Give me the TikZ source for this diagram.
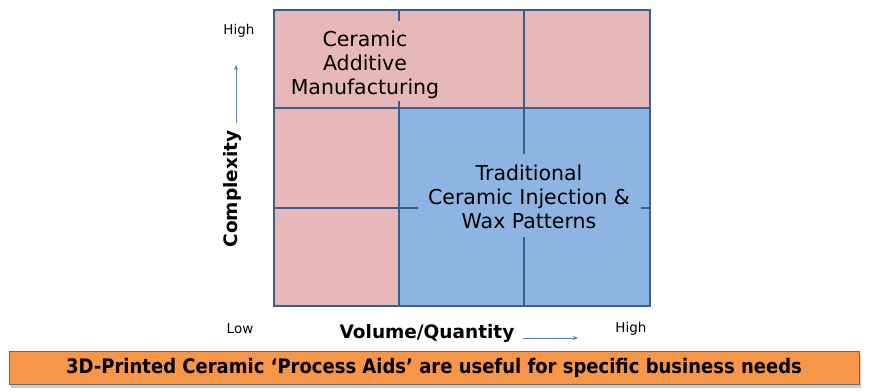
\documentclass[tikz,border=0pt]{standalone}
\usepackage{fontspec}
\setmainfont{DejaVu Sans}
\newfontfamily\condfont{DejaVu Sans Condensed}
\usetikzlibrary{arrows.meta,shadows}
\definecolor{cellpink}{HTML}{E6B9B8}
\definecolor{cellblue}{HTML}{8EB4E3}
\definecolor{gridline}{HTML}{3A5F8F}
\definecolor{arrowblue}{HTML}{4F81BD}
\definecolor{barorange}{HTML}{F79646}
\begin{document}
\begin{tikzpicture}[x=1pt,y=-1pt,
  gridl/.style={draw=gridline,line width=2pt},
  maskbox/.style={inner sep=0pt},
  celltext/.style={align=center,font=\fontsize{20.5}{24}\selectfont,inner sep=0pt},
  axislbl/.style={font=\fontsize{13.5}{15}\selectfont,inner sep=0pt},
  axistitle/.style={font=\bfseries\fontsize{18.5}{20}\selectfont,inner sep=0pt},
  axisarrow/.style={draw=arrowblue,line width=0.8pt,-{Stealth[length=5pt,width=4pt]}}]
\useasboundingbox (0,0) rectangle (873,391);
% cells
\fill[cellpink] (274,10) rectangle (650,108);
\fill[cellpink] (274,108) rectangle (399,306);
\fill[cellblue] (399,108) rectangle (650,306);
% grid lines
\draw[gridl] (399,10) -- (399,306);
\draw[gridl] (524,10) -- (524,306);
\draw[gridl] (274,108) -- (650,108);
\draw[gridl] (274,208) -- (650,208);
\draw[gridl] (274,10) rectangle (650,306);
% text backgrounds and texts
\node[maskbox,fill=cellpink,minimum height=80pt,minimum width=150pt] (cambox) at (365,61) {};
\node[maskbox,fill=cellblue,minimum height=83pt,minimum width=223pt] (tradbox) at (529,195) {};
\node[celltext] (cam) at (365,64.5) {Ceramic\\Additive\\Manufacturing};
\node[celltext] (trad) at (529,197) {Traditional\\Ceramic Injection \&\\Wax Patterns};
% axes labels
\node[axislbl] (hightop) at (239,31) {High};
\node[axislbl] (low) at (240,329) {Low};
\node[axislbl] (highright) at (631,329) {High};
\node[axistitle,rotate=90] (cplx) at (232,189) {Complexity};
\node[axistitle] (vol) at (427,333) {Volume/Quantity};
\coordinate (va0) at (236,123);
\coordinate (va1) at (236,65);
\coordinate (ha0) at (523,338);
\coordinate (ha1) at (578,338);
\draw[axisarrow] (va0) -- (va1);
\draw[axisarrow] (ha0) -- (ha1);
% bottom bar
\node[draw=gray!80!black,line width=0.8pt,fill=barorange,minimum width=850pt,minimum height=33pt,inner sep=0pt,
  drop shadow={shadow xshift=2pt,shadow yshift=-3pt,opacity=0.4},
  font=\condfont\bfseries\fontsize{20}{22}\selectfont] (bar) at (434,368) {3D-Printed Ceramic ‘Process Aids’ are useful for specific business needs};
\end{tikzpicture}
\end{document}
